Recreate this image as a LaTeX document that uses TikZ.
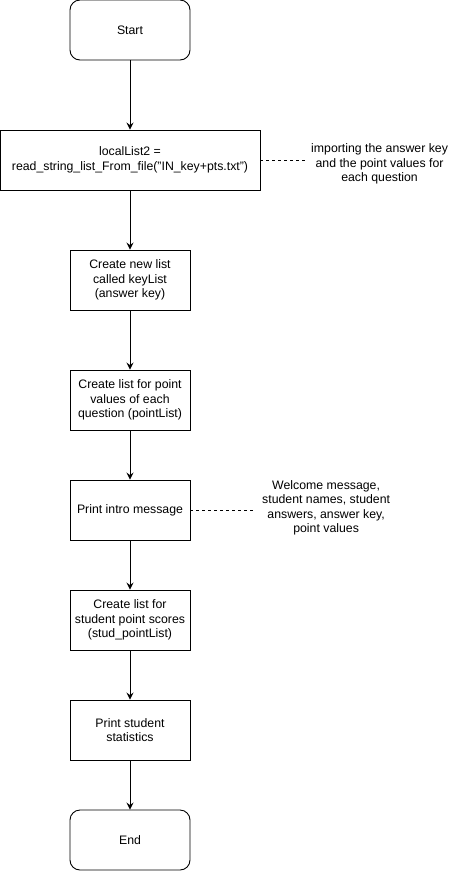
\documentclass[tikz,border=0pt]{standalone}
\usepackage{fontspec}
\setmainfont{Liberation Sans}
\usetikzlibrary{arrows.meta}
\begin{document}
\begin{tikzpicture}[x=1pt,y=-1pt,
  every node/.style={font=\fontsize{12.3}{14.5}\selectfont},
  box/.style={draw,line width=0.9pt,minimum width=120pt,minimum height=60pt,align=center,inner sep=2pt},
  term/.style={box,rounded corners=10pt},
  note/.style={align=center,inner sep=0pt},
  flow/.style={line width=0.9pt,-{Stealth[length=7pt,width=7pt,inset=2.5pt]}},
  link/.style={line width=0.8pt,dash pattern=on 3pt off 3pt}]
\useasboundingbox (0,0) rectangle (456,871);
\node[term] (start) at (130,30) {Start};
\node[box,minimum width=260pt] (read) at (130,160) {localList2 =\\read\_string\_list\_From\_file("IN\_key+pts.txt")};
\node[box] (key) at (130,280) {Create new list\\called keyList\\(answer key)};
\node[box] (pts) at (130,400) {Create list for point\\values of each\\question (pointList)};
\node[box] (intro) at (130,510) {Print intro message};
\node[box] (stud) at (130,620) {Create list for\\student point scores\\(stud\_pointList)};
\node[box] (stats) at (130,730) {Print student\\statistics};
\node[term] (end) at (130,840) {End};
\node[note,anchor=west] (n1) at (311,164) {importing the answer key\\and the point values for\\each question};
\node[note,anchor=west] (n2) at (262,508) {Welcome message,\\student names, student\\answers, answer key,\\point values};
\coordinate (c1) at (306,160);
\coordinate (c2) at (254,510);
\draw[flow] (start) -- (read);
\draw[flow] (read) -- (key);
\draw[flow] (key) -- (pts);
\draw[flow] (pts) -- (intro);
\draw[flow] (intro) -- (stud);
\draw[flow] (stud) -- (stats);
\draw[flow] (stats) -- (end);
\draw[link] (read.east) -- (c1);
\draw[link] (intro.east) -- (c2);
\end{tikzpicture}
\end{document}
